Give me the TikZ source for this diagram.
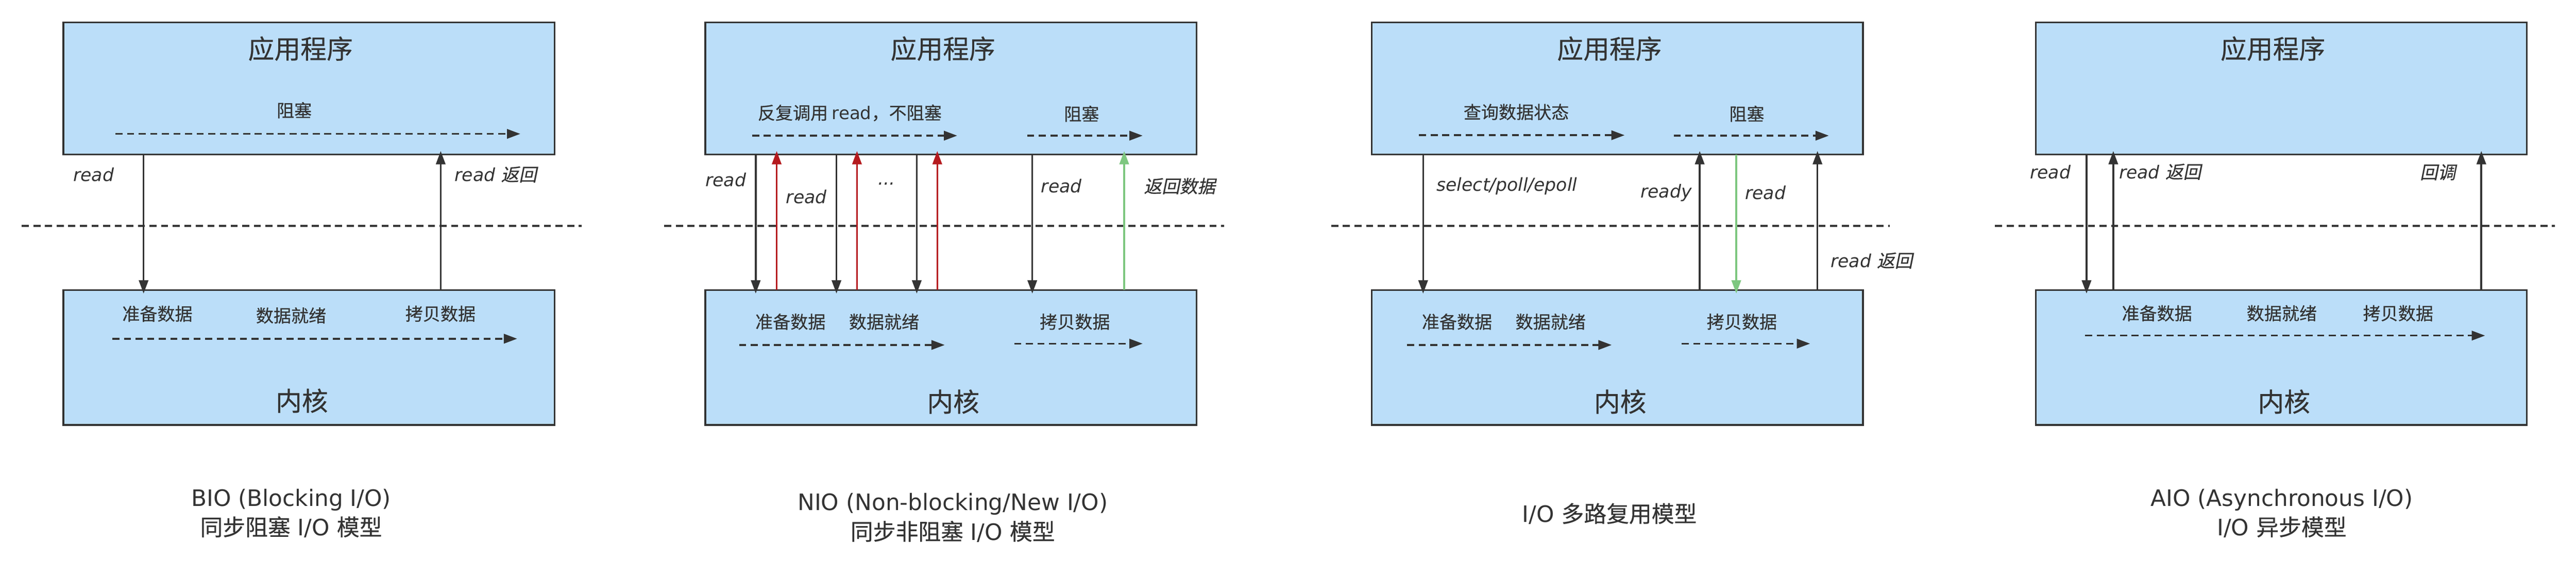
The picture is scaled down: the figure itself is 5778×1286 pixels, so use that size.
\documentclass[tikz,border=0pt]{standalone}
\usepackage{fontspec}
\setmainfont{DejaVu Sans}
\newfontfamily\cjk[FakeBold=0.4]{Noto Sans CJK SC}
\newfontfamily\cjkit[FakeSlant=0.2, FakeBold=0.4]{Noto Sans CJK SC}
\usetikzlibrary{arrows.meta}
\definecolor{layerBlue}{RGB}{187,222,249}
\definecolor{inkGray}{RGB}{51,51,51}
\definecolor{pollRed}{RGB}{181,26,30}
\definecolor{copyGreen}{RGB}{126,199,128}

\begin{document}
\begin{tikzpicture}[x=0.01cm, y=-0.01cm,
    layer/.style={rectangle, draw=inkGray, fill=layerBlue, line width=1.1pt, minimum width=11.01cm, anchor=north west, inner sep=0pt, outer sep=0pt},
    layertitle/.style={font=\cjk\fontsize{16.7pt}{20pt}\selectfont, text=inkGray},
    stage/.style={font=\cjk\fontsize{11.2pt}{13pt}\selectfont, text=inkGray},
    call/.style={font=\fontsize{11.4pt}{13pt}\selectfont\itshape, text=inkGray},
    caption/.style={font=\fontsize{14.4pt}{18.8pt}\selectfont, text=inkGray, align=center},
    arr/.style={-{Triangle[width=6pt, length=8.5pt]}, line width=1.15pt, draw=inkGray, shorten >=-2.2pt},
    flow/.style={-{Triangle[width=6pt, length=8.5pt]}, line width=1.15pt, draw=inkGray, dash pattern=on 4.5pt off 2.9pt},
    boundary/.style={draw=inkGray, line width=1.15pt, dash pattern=on 4.5pt off 2.9pt}]
    \fill[white] (0,0) rectangle (5778,1286);

    % BIO
    \node[layer, minimum height=2.96cm] (app1) at (142,50) {};
    \node[layer, minimum height=3.02cm] (ker1) at (142,650) {};
    \node[layertitle] (appname1) at (674,109) {应用程序};
    \node[layertitle] (kername1) at (677,898) {内核};
    \node[stage] (block1) at (660,247) {阻塞};
    \draw[flow] (259,300) -- (1167,300);
    \node[stage] (prep1) at (353,703) {准备数据};
    \node[stage] (ready1) at (653,707) {数据就绪};
    \node[stage] (copy1) at (988,703) {拷贝数据};
    \draw[flow] (252,759) -- (1160,759);
    \draw[boundary] (49,506) -- (1305,506);
    \draw[arr] ([xshift=1.80cm]app1.south west) -- ([xshift=1.80cm]ker1.north west);
    \draw[arr] ([xshift=8.46cm]ker1.north west) -- ([xshift=8.46cm]app1.south west);
    \node[call] (rd1) at (210,391) {read};
    \node[call] (ret1) at (1112,391) {read {\cjkit 返回}};
    \node[caption] (cap1) at (653,1150) {BIO (Blocking I/O)\\{\cjk 同步阻塞} I/O {\cjk 模型}};

    % NIO
    \node[layer, minimum height=2.96cm] (app2) at (1582,50) {};
    \node[layer, minimum height=3.02cm] (ker2) at (1582,650) {};
    \node[layertitle] (appname2) at (2115,109) {应用程序};
    \node[layertitle] (kername2) at (2138,900) {内核};
    \node[stage] (poll2) at (1906,253) {反复调用 {\rmfamily read}，不阻塞};
    \draw[flow] (1687,304) -- (2147,304);
    \node[stage] (block2) at (2426,255) {阻塞};
    \draw[flow] (2304,304) -- (2563,304);
    \node[stage] (prep2) at (1773,721) {准备数据};
    \node[stage] (ready2) at (1983,721) {数据就绪};
    \draw[flow] (1658,773) -- (2119,773);
    \node[stage] (copy2) at (2411,721) {拷贝数据};
    \draw[flow] (2275,770) -- (2563,770);
    \draw[boundary] (1490,506) -- (2746,506);
    \draw[arr] ([xshift=1.13cm]app2.south west) -- ([xshift=1.13cm]ker2.north west);
    \draw[arr, draw=pollRed] ([xshift=1.60cm]ker2.north west) -- ([xshift=1.60cm]app2.south west);
    \draw[arr] ([xshift=2.94cm]app2.south west) -- ([xshift=2.94cm]ker2.north west);
    \draw[arr, draw=pollRed] ([xshift=3.40cm]ker2.north west) -- ([xshift=3.40cm]app2.south west);
    \draw[arr] ([xshift=4.74cm]app2.south west) -- ([xshift=4.74cm]ker2.north west);
    \draw[arr, draw=pollRed] ([xshift=5.20cm]ker2.north west) -- ([xshift=5.20cm]app2.south west);
    \draw[arr] ([xshift=7.33cm]app2.south west) -- ([xshift=7.33cm]ker2.north west);
    \draw[arr, draw=copyGreen] ([xshift=9.39cm]ker2.north west) -- ([xshift=9.39cm]app2.south west);
    \node[call] (rd2a) at (1628,403) {read};
    \node[call] (rd2b) at (1809,441) {read};
    \node[call] (more2) at (1989,412) {...};
    \node[call] (rd2c) at (2381,417) {read};
    \node[call] (ret2) at (2646,417) {\cjkit 返回数据};
    \node[caption] (cap2) at (2137,1160) {NIO (Non-blocking/New I/O)\\{\cjk 同步非阻塞} I/O {\cjk 模型}};

    % I/O multiplexing
    \node[layer, minimum height=2.96cm] (app3) at (3077,50) {};
    \node[layer, minimum height=3.02cm] (ker3) at (3077,650) {};
    \node[layertitle] (appname3) at (3610,109) {应用程序};
    \node[layertitle] (kername3) at (3634,900) {内核};
    \node[stage] (query3) at (3401,251) {查询数据状态};
    \draw[flow] (3183,303) -- (3644,303);
    \node[stage] (block3) at (3918,255) {阻塞};
    \draw[flow] (3754,304) -- (4102,304);
    \node[stage] (prep3) at (3268,721) {准备数据};
    \node[stage] (ready3) at (3478,721) {数据就绪};
    \draw[flow] (3156,773) -- (3615,773);
    \node[stage] (copy3) at (3907,721) {拷贝数据};
    \draw[flow] (3772,770) -- (4060,770);
    \draw[boundary] (2986,506) -- (4239,506);
    \draw[arr] ([xshift=1.15cm]app3.south west) -- ([xshift=1.15cm]ker3.north west);
    \draw[arr] ([xshift=7.35cm]ker3.north west) -- ([xshift=7.35cm]app3.south west);
    \draw[arr, draw=copyGreen] ([xshift=8.17cm]app3.south west) -- ([xshift=8.17cm]ker3.north west);
    \draw[arr] ([xshift=9.99cm]ker3.north west) -- ([xshift=9.99cm]app3.south west);
    \node[call, anchor=west] (sel3) at (3210,417) {select/poll/epoll};
    \node[call] (rdy3) at (3737,432) {ready};
    \node[call] (rd3) at (3960,432) {read};
    \node[call] (ret3) at (4198,584) {read {\cjkit 返回}};
    \node[caption] (cap3) at (3610,1151) {I/O {\cjk 多路复用模型}};

    % AIO
    \node[layer, minimum height=2.96cm] (app4) at (4566,50) {};
    \node[layer, minimum height=3.02cm] (ker4) at (4566,650) {};
    \node[layertitle] (appname4) at (5098,109) {应用程序};
    \node[layertitle] (kername4) at (5123,900) {内核};
    \node[stage] (prep4) at (4838,702) {准备数据};
    \node[stage] (ready4) at (5118,702) {数据就绪};
    \node[stage] (copy4) at (5379,702) {拷贝数据};
    \draw[flow] (4677,752) -- (5574,752);
    \draw[boundary] (4475,506) -- (5730,506);
    \draw[arr] ([xshift=1.14cm]app4.south west) -- ([xshift=1.14cm]ker4.north west);
    \draw[arr] ([xshift=1.74cm]ker4.north west) -- ([xshift=1.74cm]app4.south west);
    \draw[arr] ([xshift=9.99cm]ker4.north west) -- ([xshift=9.99cm]app4.south west);
    \node[call] (rd4) at (4599,385) {read};
    \node[call] (ret4) at (4845,385) {read {\cjkit 返回}};
    \node[call] (cb4) at (5468,386) {\cjkit 回调};
    \node[caption] (cap4) at (5118,1150) {AIO (Asynchronous I/O)\\I/O {\cjk 异步模型}};
\end{tikzpicture}
\end{document}
